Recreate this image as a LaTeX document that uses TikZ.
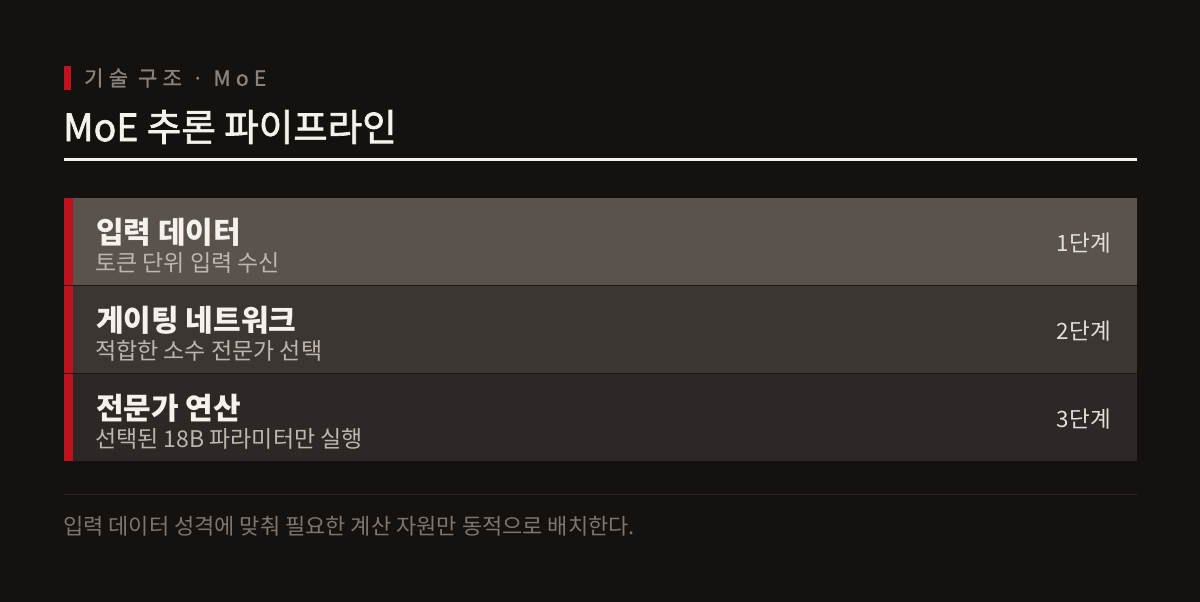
\documentclass[tikz,border=0pt]{standalone}
\usepackage{fontspec}
\setmainfont{Noto Sans CJK KR}
\newfontfamily\kickerfont[LetterSpace=25,FakeBold=1.2]{Noto Sans CJK KR}
\newfontfamily\titlefont[FakeBold=1.8]{Noto Sans CJK KR}
\definecolor{bgc}{HTML}{15110F}
\definecolor{rowa}{HTML}{5A524D}
\definecolor{rowb}{HTML}{3C3632}
\definecolor{rowc}{HTML}{2D2825}
\definecolor{accent}{HTML}{C0121E}
\definecolor{kickc}{HTML}{8A827C}
\definecolor{subc}{HTML}{BDB5AF}
\definecolor{footc}{HTML}{7D7570}
\definecolor{footline}{HTML}{2E2926}
\definecolor{sepc}{HTML}{1C1816}
\definecolor{whitec}{HTML}{F5F2EE}
\tikzset{
  txt/.style={inner sep=0pt, anchor=west},
  rowtitle/.style={txt, text=whitec, font=\fontsize{30}{34}\selectfont\bfseries},
  rowsub/.style={txt, text=subc, font=\fontsize{23}{27}\selectfont},
  stage/.style={inner sep=0pt, anchor=east, text=whitec!92!black, font=\fontsize{22.5}{26}\selectfont},
}
\begin{document}
\begin{tikzpicture}[x=1pt,y=-1pt]
\fill[bgc] (0,0) rectangle (1200,602);
\useasboundingbox (0,0) rectangle (1200,602);
% kicker
\fill[accent] (64,66) rectangle (71,90);
\node[txt, text=kickc, font=\kickerfont\fontsize{21}{24}\selectfont] (kick) at (84,78) {기술 구조 · MoE};
% title
\node[txt, text=whitec, font=\titlefont\fontsize{37.5}{42}\selectfont] (title) at (63,127) {MoE 추론 파이프라인};
\fill[whitec] (64,157.5) rectangle (1137,161);
% rows
\fill[rowa] (64,198) rectangle (1137,285);
\fill[rowb] (64,286) rectangle (1137,373);
\fill[rowc] (64,374) rectangle (1137,461);
\fill[sepc] (64,285) rectangle (1137,286);
\fill[sepc] (64,373) rectangle (1137,374);
\fill[accent] (64,198) rectangle (73,285);
\fill[accent] (64,286) rectangle (73,373);
\fill[accent] (64,374) rectangle (73,461);
\node[rowtitle] (t1) at (96,232) {입력 데이터};
\node[rowsub] (s1) at (95,263) {토큰 단위 입력 수신};
\node[stage] (g1) at (1111,243) {1단계};
\node[rowtitle] (t2) at (96,320) {게이팅 네트워크};
\node[rowsub] (s2) at (95,351) {적합한 소수 전문가 선택};
\node[stage] (g2) at (1111,331) {2단계};
\node[rowtitle] (t3) at (96,408) {전문가 연산};
\node[rowsub] (s3) at (95,439) {선택된 18B 파라미터만 실행};
\node[stage] (g3) at (1111,419) {3단계};
% footer
\fill[footline] (64,493.5) rectangle (1137,494.5);
\node[txt, text=footc, font=\fontsize{22}{26}\selectfont] (foot) at (63,526) {입력 데이터 성격에 맞춰 필요한 계산 자원만 동적으로 배치한다.};
\end{tikzpicture}
\end{document}
